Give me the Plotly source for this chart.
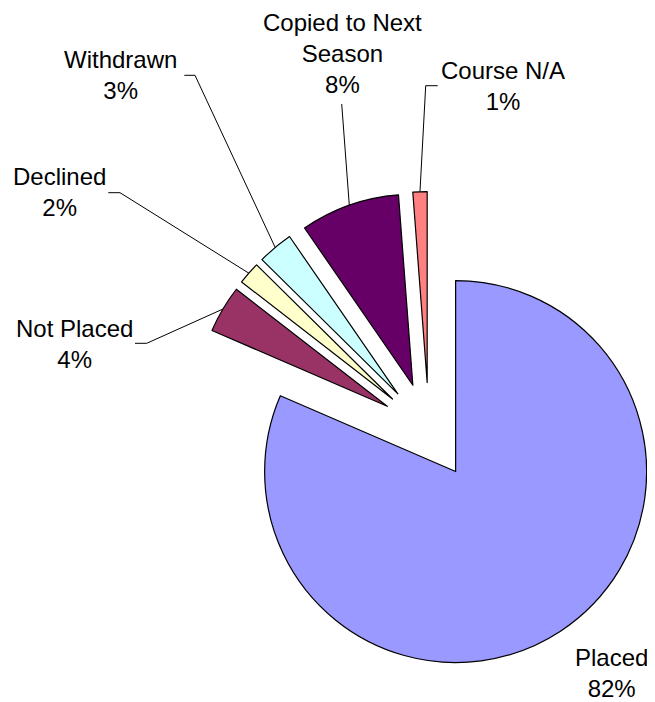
import math
import plotly.graph_objects as go

# ---- data ----
categories = ["Placed", "Not Placed", "Declined", "Withdrawn", "Copied to Next Season", "Course N/A"]
values = [81.5, 4.0, 1.9, 3.0, 8.4, 1.2]
pct_text = ["82%", "4%", "2%", "3%", "8%", "1%"]
colors = ["#9999FF", "#993366", "#FFFFCC", "#CCFFFF", "#660066", "#FF8080"]

# ---- layout geometry (page pixels) ----
PAGE_W, PAGE_H = 655, 702
OFF = 8                      # default page body margin
W, H = PAGE_W - OFF, PAGE_H - OFF
CX, CY = 429.0, 431.0        # centre of the un-exploded pie (page pixels)
RADIUS = 191.0               # pie radius in pixels
EXPLODE = 48.5               # explosion distance in pixels (same for every slice)
FONT = dict(family="Liberation Sans, Arial, sans-serif", size=24, color="#000000")

# label centres (x, middle y) in page pixels
label_pos = {
    "Placed": (611.7, 672.5),
    "Not Placed": (74.5, 344.0),
    "Declined": (59.5, 192.5),
    "Withdrawn": (120.5, 75.5),
    "Copied to Next Season": (342.5, 53.0),
    "Course N/A": (503.3, 85.5),
}
# leader line starting segments near the labels (page pixels)
leader_start = {
    "Not Placed": [(135.0, 343.3), (146.7, 343.3)],
    "Declined": [(108.3, 192.7), (120.0, 192.7)],
    "Withdrawn": [(184.3, 75.3), (195.0, 75.3)],
    "Copied to Next Season": [(341.7, 104.0)],
    "Course N/A": [(437.7, 85.7), (425.7, 85.7)],
}


def px_to_paper(x, y):
    return (x - OFF) / W, 1 - (y - OFF) / H


fig = go.Figure()
total = sum(values)
cum = 0.0
shapes = []
annotations = []
n = len(values)
for i, (name, v, pct) in enumerate(zip(categories, values, pct_text)):
    theta = math.radians(360.0 * (cum + v / 2) / total)
    cum += v
    ux, uy = math.sin(theta), -math.cos(theta)
    # exploded slice: its own pie whose centre is shifted along the slice bisector
    vx, vy = CX + EXPLODE * ux, CY + EXPLODE * uy
    x0, y1 = px_to_paper(vx - RADIUS, vy - RADIUS)
    x1, y0 = px_to_paper(vx + RADIUS, vy + RADIUS)
    slice_colors = [colors[j] if j == i else "rgba(0,0,0,0)" for j in range(n)]
    line_w = [1.2 if j == i else 0 for j in range(n)]
    fig.add_trace(go.Pie(
        labels=categories,
        values=values,
        sort=False,
        direction="clockwise",
        rotation=0,
        marker=dict(colors=slice_colors, line=dict(color="#000000", width=line_w)),
        textinfo="none",
        hoverinfo="skip",
        showlegend=False,
        domain=dict(x=[x0, x1], y=[y0, y1]),
        name=name,
    ))

    arc_pt = (vx + RADIUS * ux, vy + RADIUS * uy)
    lx, ly = label_pos[name]
    px, py = px_to_paper(lx, ly)
    annotations.append(dict(
        x=px, y=py, xref="paper", yref="paper",
        text=name.replace("Copied to Next Season", "Copied to Next<br>Season") + "<br>" + pct,
        showarrow=False, xanchor="center", yanchor="middle", align="center",
        font=FONT,
    ))
    if name in leader_start:
        pts = leader_start[name] + [arc_pt]
        path = ""
        for k, (x, y) in enumerate(pts):
            qx, qy = px_to_paper(x, y)
            path += ("M" if k == 0 else " L") + f" {qx:.5f},{qy:.5f}"
        shapes.append(dict(type="path", path=path, xref="paper", yref="paper",
                           line=dict(color="#000000", width=1)))

fig.update_layout(
    width=W, height=H,
    margin=dict(l=0, r=0, t=0, b=0),
    paper_bgcolor="#FFFFFF",
    plot_bgcolor="#FFFFFF",
    annotations=annotations,
    shapes=shapes,
)

fig.write_html("out.html")
